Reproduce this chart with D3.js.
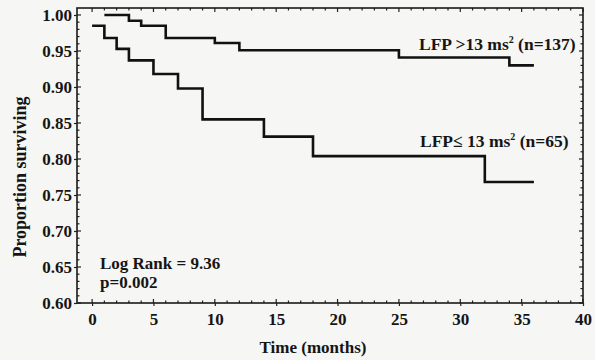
<!DOCTYPE html>
<html>
<head>
<meta charset="utf-8">
<script src="https://cdn.jsdelivr.net/npm/d3@7"></script>
<style>
  body { margin: 0; background: #f6f6f4; }
  svg { display: block; }
  text { font-family: "Liberation Serif", "Times New Roman", serif; font-weight: bold; fill: #151515; }
</style>
</head>
<body>
<svg id="paper" width="595" height="360"></svg>
<script>
// high LFP group (n=137): step times and survival
var highTimes = [1, 3, 4, 6, 10, 12, 25, 34, 36];
var highSurv = [1.000, 0.992, 0.985, 0.968, 0.961, 0.951, 0.941, 0.930, 0.930];

// low LFP group (n=65)
var lowTimes = [0, 1, 2, 3, 5, 7, 9, 14, 18, 32, 36];
var lowSurv = [0.985, 0.968, 0.953, 0.937, 0.918, 0.898, 0.855, 0.831, 0.804, 0.768, 0.768];

var xTicks = [0, 5, 10, 15, 20, 25, 30, 35, 40];
var yTicks = [0.60, 0.65, 0.70, 0.75, 0.80, 0.85, 0.90, 0.95, 1.00];

var svg = d3.select("#paper");
var plotLeft = 77, plotRight = 583, plotTop = 8, plotBottom = 303;

var x = d3.scaleLinear().domain([-1.23, 40]).range([plotLeft, plotRight]);
var y = d3.scaleLinear().domain([0.6, 1.0097]).range([plotBottom, plotTop]);

// minor ticks on the frame (inside)
var minorX = d3.range(0, 41, 1);
var minorY = d3.range(0.60, 1.0001, 0.01);
var g = svg.append("g").attr("stroke", "#222").attr("stroke-width", 1.2);
minorX.forEach(function (t) {
    var len = (t % 5 == 0) ? 4 : 2.5;
    g.append("line").attr("x1", x(t)).attr("x2", x(t)).attr("y1", plotBottom).attr("y2", plotBottom - len);
    g.append("line").attr("x1", x(t)).attr("x2", x(t)).attr("y1", plotTop).attr("y2", plotTop + len);
});
minorY.forEach(function (t) {
    var major = Math.round(t * 100) % 5 == 0;
    var len = major ? 4 : 2.5;
    g.append("line").attr("y1", y(t)).attr("y2", y(t)).attr("x1", plotLeft).attr("x2", plotLeft + len);
    g.append("line").attr("y1", y(t)).attr("y2", y(t)).attr("x1", plotRight).attr("x2", plotRight - len);
});

// frame
svg.append("rect")
    .attr("x", plotLeft).attr("y", plotTop)
    .attr("width", plotRight - plotLeft).attr("height", plotBottom - plotTop)
    .attr("fill", "none").attr("stroke", "#1a1a1a").attr("stroke-width", 1.6);

// axes labels
var xAxis = d3.axisBottom(x).tickValues(xTicks).tickSize(3).tickPadding(5).tickFormat(d3.format("d"));
var yAxis = d3.axisLeft(y).tickValues(yTicks).tickSize(3).tickPadding(2).tickFormat(d3.format(".2f"));

var gx = svg.append("g").attr("transform", "translate(0," + plotBottom + ")").call(xAxis);
var gy = svg.append("g").attr("transform", "translate(" + plotLeft + ",0)").call(yAxis);
[gx, gy].forEach(function (a) {
    a.select(".domain").remove();
    a.selectAll("line").attr("stroke", "#222").attr("stroke-width", 1.2);
    a.selectAll("text").style("font-size", "17px")
        .style("font-family", "'Liberation Serif', serif").style("font-weight", "bold").attr("fill", "#151515");
});
gx.selectAll("text").attr("dy", "0.85em");

// curves
var line = d3.line()
    .x(function (d) { return x(d[0]); })
    .y(function (d) { return y(d[1]); })
    .curve(d3.curveStepAfter);

function pairs(times, surv) {
    return times.map(function (t, i) { return [t, surv[i]]; });
}

svg.append("path").datum(pairs(highTimes, highSurv))
    .attr("d", line).attr("fill", "none").attr("stroke", "#111").attr("stroke-width", 2.6);
svg.append("path").datum(pairs(lowTimes, lowSurv))
    .attr("d", line).attr("fill", "none").attr("stroke", "#111").attr("stroke-width", 2.6);

// curve labels
var t1 = svg.append("text").attr("x", 419).attr("y", 50).style("font-size", "17.5px");
t1.append("tspan").text("LFP >13 ms");
t1.append("tspan").attr("dy", -7).style("font-size", "10px").text("2");
t1.append("tspan").attr("dy", 7).text(" (n=137)");

var t2 = svg.append("text").attr("x", 420).attr("y", 147).style("font-size", "17.5px");
t2.append("tspan").text("LFP\u2264 13 ms");
t2.append("tspan").attr("dy", -7).style("font-size", "10px").text("2");
t2.append("tspan").attr("dy", 7).text(" (n=65)");

svg.append("text").attr("x", 100).attr("y", 269).style("font-size", "17px").text("Log Rank = 9.36");
svg.append("text").attr("x", 100).attr("y", 288).style("font-size", "17px").text("p=0.002");

// axis titles
svg.append("text").attr("x", 313).attr("y", 353).attr("text-anchor", "middle")
    .style("font-size", "17px").text("Time (months)");
svg.append("text").attr("transform", "translate(26,177) rotate(-90)").attr("text-anchor", "middle")
    .style("font-size", "18px").text("Proportion surviving");
</script>
</body>
</html>
